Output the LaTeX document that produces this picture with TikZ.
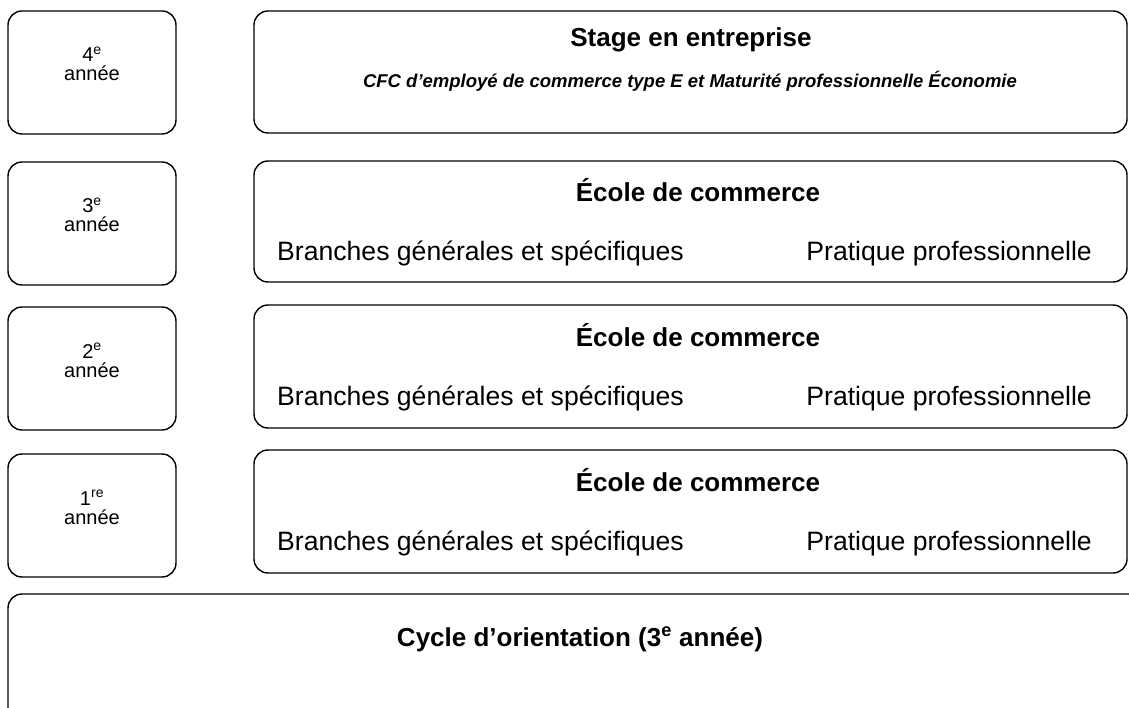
\documentclass[tikz,border=0pt]{standalone}
\usepackage{fontspec}
\setmainfont{Liberation Sans}
\begin{document}
\begin{tikzpicture}[x=1pt,y=-1pt,
  box/.style={draw=black, line width=1.4pt, rounded corners=14pt},
  yeartxt/.style={anchor=base, font=\fontsize{20}{23}\selectfont, inner sep=0pt},
  titletxt/.style={anchor=base, font=\fontsize{26}{30}\selectfont\bfseries, inner sep=0pt},
  bodytxt/.style={font=\fontsize{26.6}{30}\selectfont, inner sep=0pt},
  subtxt/.style={anchor=base, font=\fontsize{18.5}{22}\selectfont\bfseries\itshape, inner sep=0pt}]
\useasboundingbox (0,0) rectangle (1129,708);
\begin{scope}
\clip (0,0) rectangle (1129,708);
% left year boxes
\draw[box] (8,11) rectangle (176,134);
\draw[box] (8,162) rectangle (176,285);
\draw[box] (8,307) rectangle (176,430);
\draw[box] (8,454) rectangle (176,577);
% right boxes
\draw[box] (254,11) rectangle (1127,133);
\draw[box] (254,161) rectangle (1127,282);
\draw[box] (254,305) rectangle (1127,428);
\draw[box] (254,450) rectangle (1127,573);
% bottom box
\draw[box] (8,594) rectangle (1150,730);
\end{scope}
% year labels
\node[yeartxt] (n4) at (92,62) {4\textsuperscript{e}};
\node[yeartxt] (a4) at (92,81) {année};
\node[yeartxt] (n3) at (92,213) {3\textsuperscript{e}};
\node[yeartxt] (a3) at (92,232) {année};
\node[yeartxt] (n2) at (92,358) {2\textsuperscript{e}};
\node[yeartxt] (a2) at (92,377) {année};
\node[yeartxt] (n1) at (92,505) {1\textsuperscript{re}};
\node[yeartxt] (a1) at (92,524) {année};
% stage
\node[titletxt] (stage) at (691,47) {Stage en entreprise};
\node[subtxt] (cfc) at (690,88) {CFC d’employé de commerce type E et Maturité professionnelle Économie};
% ecole rows
\node[titletxt] (e3) at (698,202) {École de commerce};
\node[bodytxt, anchor=base west] (b3) at (277,261) {Branches générales et spécifiques};
\node[bodytxt, anchor=base east] (p3) at (1092,261) {Pratique professionnelle};
\node[titletxt] (e2) at (698,346) {École de commerce};
\node[bodytxt, anchor=base west] (b2) at (277,405) {Branches générales et spécifiques};
\node[bodytxt, anchor=base east] (p2) at (1092,405) {Pratique professionnelle};
\node[titletxt] (e1) at (698,491) {École de commerce};
\node[bodytxt, anchor=base west] (b1) at (277,550) {Branches générales et spécifiques};
\node[bodytxt, anchor=base east] (p1) at (1092,550) {Pratique professionnelle};
% cycle
\node[titletxt] (cycle) at (580,646) {Cycle d’orientation (3\textsuperscript{e} année)};
\end{tikzpicture}
\end{document}
